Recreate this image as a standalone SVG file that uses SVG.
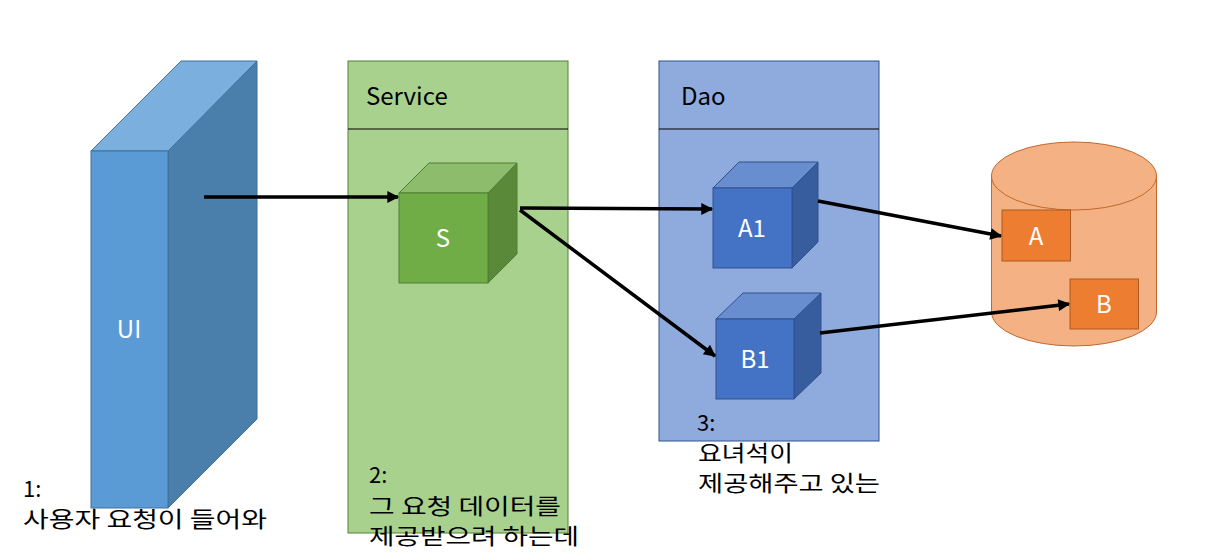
<svg xmlns="http://www.w3.org/2000/svg" width="1219" height="558" viewBox="0 0 1219 558">
<style>
text{font-family:"Noto Sans CJK KR","Noto Sans",sans-serif;}
.lbl{font-size:24px;fill:#000;}
.wl{font-size:24px;fill:#fff;text-anchor:middle;}
.note{font-size:22px;fill:#000;}
.conn{stroke:#000;stroke-width:3.5;fill:none;marker-end:url(#ah);}
</style>
<defs>
<marker id="ah" viewBox="0 0 10 10" refX="9" refY="5" markerWidth="4" markerHeight="3.4" orient="auto" markerUnits="strokeWidth">
<path d="M0,0 L10,5 L0,10 z" fill="#000"/>
</marker>
</defs>
<rect width="1219" height="558" fill="#fff"/>

<g id="ui">
<polygon points="168,151 257,61 257,419 168,508" fill="#4A7EAB" stroke="#41719C" stroke-width="1"/>
<polygon points="91,151 181,61 257,61 168,151" fill="#7BAFDE" stroke="#41719C" stroke-width="1"/>
<rect x="91" y="151" width="77" height="357" fill="#5B9BD5" stroke="#41719C" stroke-width="1"/>
<text class="wl" x="129" y="338">UI</text>
</g>

<g id="service">
<rect x="348" y="61" width="220" height="472" fill="#A9D18E" stroke="#538135" stroke-width="1"/>
<line x1="348" y1="129" x2="568" y2="129" stroke="#000" stroke-width="1"/>
<text class="lbl" x="366" y="105">Service</text>
</g>

<g id="dao">
<rect x="659" y="61" width="220" height="380" fill="#8FAADC" stroke="#2F528F" stroke-width="1"/>
<line x1="659" y1="129" x2="879" y2="129" stroke="#000" stroke-width="1"/>
<text class="lbl" x="681" y="105">Dao</text>
</g>

<g id="s">
<polygon points="488,193 517,163 517,254 488,283" fill="#5A8A39" stroke="#507E32" stroke-width="1"/>
<polygon points="399,193 429,163 517,163 488,193" fill="#8DBD6C" stroke="#507E32" stroke-width="1"/>
<rect x="399" y="193" width="89" height="90" fill="#70AD47" stroke="#507E32" stroke-width="1"/>
<text class="wl" x="443" y="247">S</text>
</g>

<g id="a1">
<polygon points="792,188 818,162 818,242 792,268" fill="#375D9F" stroke="#2F528F" stroke-width="1"/>
<polygon points="713,188 739,162 818,162 792,188" fill="#698ED0" stroke="#2F528F" stroke-width="1"/>
<rect x="713" y="188" width="79" height="80" fill="#4472C4" stroke="#2F528F" stroke-width="1"/>
<text class="wl" x="752" y="237">A1</text>
</g>

<g id="b1">
<polygon points="794,319 821,293 821,373 794,399" fill="#375D9F" stroke="#2F528F" stroke-width="1"/>
<polygon points="716,319 743,293 821,293 794,319" fill="#698ED0" stroke="#2F528F" stroke-width="1"/>
<rect x="716" y="319" width="78" height="80" fill="#4472C4" stroke="#2F528F" stroke-width="1"/>
<text class="wl" x="755" y="368">B1</text>
</g>

<g id="db">
<path d="M991.5,176 L991.5,312 A82.5,34 0 0 0 1156.5,312 L1156.5,176" fill="#F4B183" stroke="#C0692E" stroke-width="1"/>
<ellipse cx="1074" cy="176" rx="82.5" ry="34" fill="#F4B183" stroke="#C0692E" stroke-width="1"/>
</g>

<g id="a">
<rect x="1002" y="210" width="68.5" height="51" fill="#ED7D31" stroke="#AE5A21" stroke-width="1"/>
<text class="wl" x="1036" y="245">A</text>
</g>

<g id="b">
<rect x="1070" y="279" width="68.5" height="50" fill="#ED7D31" stroke="#AE5A21" stroke-width="1"/>
<text class="wl" x="1104" y="313">B</text>
</g>

<g id="connectors">
<line class="conn" x1="204" y1="197" x2="398" y2="197"/>
<line class="conn" x1="520" y1="208" x2="712" y2="209"/>
<line class="conn" x1="520" y1="210" x2="715" y2="356"/>
<line class="conn" x1="818" y1="201" x2="1001" y2="236"/>
<line class="conn" x1="820" y1="333" x2="1069" y2="304"/>
</g>

<g id="notes">
<text class="note"><tspan x="23" y="497">1:</tspan><tspan x="23" y="527" textLength="244" lengthAdjust="spacingAndGlyphs">사용자 요청이 들어와</tspan></text>
<text class="note"><tspan x="369" y="483">2:</tspan><tspan x="369" y="514" textLength="192" lengthAdjust="spacingAndGlyphs">그 요청 데이터를</tspan><tspan x="369" y="544" textLength="210" lengthAdjust="spacingAndGlyphs">제공받으려 하는데</tspan></text>
<text class="note"><tspan x="697" y="431">3:</tspan><tspan x="698" y="461" textLength="95" lengthAdjust="spacingAndGlyphs">요녀석이</tspan><tspan x="698" y="491" textLength="182" lengthAdjust="spacingAndGlyphs">제공해주고 있는</tspan></text>
</g>
</svg>
